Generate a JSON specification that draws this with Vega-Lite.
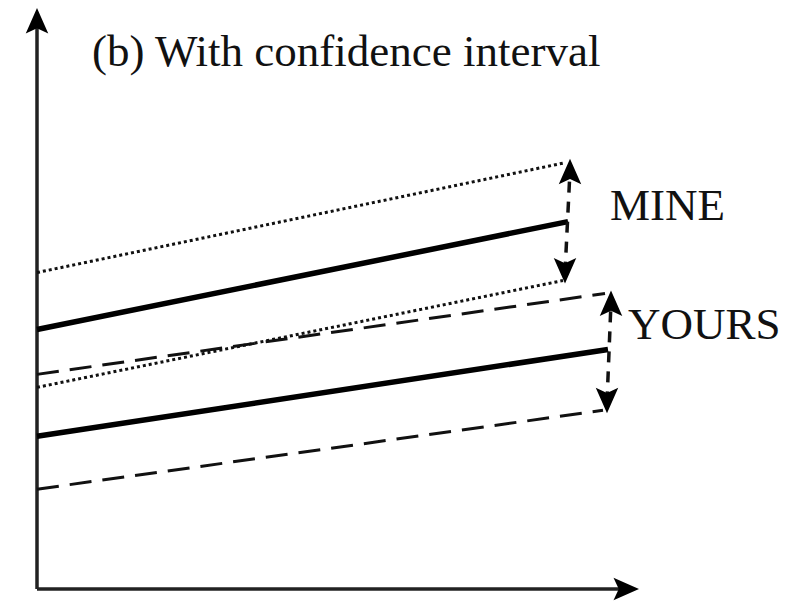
{
  "$schema": "https://vega.github.io/schema/vega-lite/v6.json",
  "width": 788,
  "height": 601,
  "autosize": {"type": "fit", "contains": "padding"},
  "padding": 0,
  "background": "white",
  "config": {"view": {"stroke": null}},
  "datasets": {
    "lines": [
      {"series": "yaxis", "style": "axis", "x": 37, "y": 11},
      {"series": "yaxis", "style": "axis", "x": 37, "y": 582},
      {"series": "xaxis", "style": "axis", "x": 37, "y": 11},
      {"series": "xaxis", "style": "axis", "x": 626, "y": 11},
      {"series": "mine_upper", "style": "dotted", "x": 37, "y": 328},
      {"series": "mine_upper", "style": "dotted", "x": 565, "y": 438},
      {"series": "mine_mid", "style": "solid", "x": 37, "y": 271},
      {"series": "mine_mid", "style": "solid", "x": 568, "y": 379},
      {"series": "mine_lower", "style": "dotted", "x": 37, "y": 213},
      {"series": "mine_lower", "style": "dotted", "x": 563, "y": 320},
      {"series": "yours_upper", "style": "dashed", "x": 37, "y": 226},
      {"series": "yours_upper", "style": "dashed", "x": 605, "y": 307},
      {"series": "yours_mid", "style": "solid", "x": 37, "y": 164},
      {"series": "yours_mid", "style": "solid", "x": 608, "y": 251},
      {"series": "yours_lower", "style": "dashed", "x": 37, "y": 111},
      {"series": "yours_lower", "style": "dashed", "x": 603, "y": 190},
      {"series": "mine_arrow", "style": "vdash", "x": 570, "y": 430},
      {"series": "mine_arrow", "style": "vdash", "x": 565, "y": 328},
      {"series": "yours_arrow", "style": "vdash", "x": 611, "y": 298},
      {"series": "yours_arrow", "style": "vdash", "x": 607, "y": 198}
    ],
    "heads": [
      {"dir": "up", "x": 37, "y": 593},
      {"dir": "right", "x": 639, "y": 11},
      {"dir": "up", "x": 570, "y": 442},
      {"dir": "down", "x": 565, "y": 317},
      {"dir": "up", "x": 611, "y": 310},
      {"dir": "down", "x": 607, "y": 187}
    ],
    "labels": [
      {"text": "(b) With confidence interval", "x": 92, "y": 535},
      {"text": "MINE", "x": 610, "y": 381},
      {"text": "YOURS", "x": 628, "y": 261}
    ]
  },
  "encoding": {
    "x": {"field": "x", "type": "quantitative", "scale": {"domain": [0, 788], "nice": false, "zero": false}, "axis": null},
    "y": {"field": "y", "type": "quantitative", "scale": {"domain": [0, 601], "nice": false, "zero": false}, "axis": null}
  },
  "layer": [
    {
      "data": {"name": "lines"},
      "transform": [{"filter": "datum.style == 'axis'"}],
      "mark": {"type": "line", "color": "#222", "strokeWidth": 3.5},
      "encoding": {"detail": {"field": "series"}}
    },
    {
      "data": {"name": "lines"},
      "transform": [{"filter": "datum.style == 'solid'"}],
      "mark": {"type": "line", "color": "#000", "strokeWidth": 5.5},
      "encoding": {"detail": {"field": "series"}}
    },
    {
      "data": {"name": "lines"},
      "transform": [{"filter": "datum.style == 'dotted'"}],
      "mark": {"type": "line", "color": "#111", "strokeWidth": 3, "strokeDash": [3, 3]},
      "encoding": {"detail": {"field": "series"}}
    },
    {
      "data": {"name": "lines"},
      "transform": [{"filter": "datum.style == 'dashed'"}],
      "mark": {"type": "line", "color": "#111", "strokeWidth": 3, "strokeDash": [22, 11]},
      "encoding": {"detail": {"field": "series"}}
    },
    {
      "data": {"name": "lines"},
      "transform": [{"filter": "datum.style == 'vdash'"}],
      "mark": {"type": "line", "color": "#111", "strokeWidth": 3.5, "strokeDash": [11, 9]},
      "encoding": {"detail": {"field": "series"}}
    },
    {
      "data": {"name": "heads"},
      "mark": {"type": "point", "filled": true, "color": "#000", "opacity": 1, "size": 225},
      "encoding": {
        "shape": {
          "field": "dir",
          "type": "nominal",
          "legend": null,
          "scale": {
            "domain": ["up", "down", "right"],
            "range": [
              "M0,0L-1.5,3.4L0,2.7L1.5,3.4Z",
              "M0,0L-1.5,-3.4L0,-2.7L1.5,-3.4Z",
              "M0,0L-3.4,-1.5L-2.7,0L-3.4,1.5Z"
            ]
          }
        }
      }
    },
    {
      "data": {"name": "labels"},
      "mark": {"type": "text", "align": "left", "baseline": "alphabetic", "font": "Liberation Serif", "fontSize": 45, "color": "#111"},
      "encoding": {"text": {"field": "text"}}
    }
  ]
}
